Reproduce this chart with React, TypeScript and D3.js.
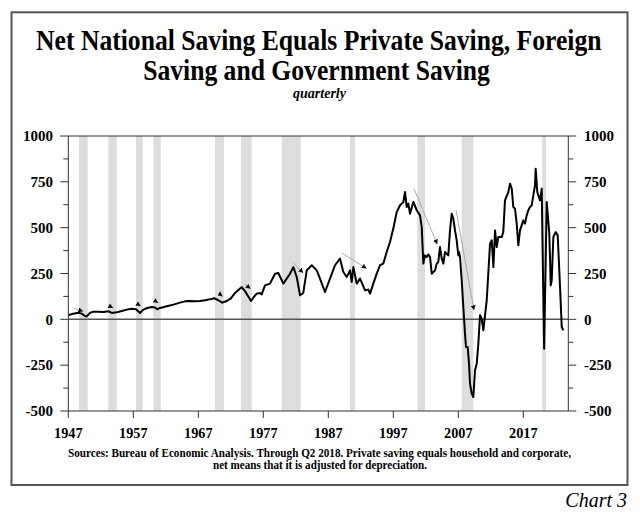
import React from 'react';
import * as d3 from 'd3';

// quarterly observations (decimal year) and net national saving (billions $)
const quarters = [
  1947.0, 1947.77, 1948.54, 1949.06, 1949.57, 1949.83, 1950.34, 1950.85, 1951.62, 1952.38,
  1953.15, 1953.68, 1954.45, 1955.22, 1955.98, 1956.75, 1957.42, 1958.03, 1958.54, 1959.15,
  1959.83, 1960.34, 1960.69, 1961.11, 1962.14, 1963.15, 1964.18, 1964.95, 1965.72, 1966.49,
  1967.26, 1968.03, 1968.8, 1969.42, 1970.08, 1970.69, 1971.37, 1971.98, 1972.65, 1973.68,
  1974.18, 1974.69, 1975.11, 1975.46, 1975.98, 1976.49, 1976.75, 1977.26, 1978.03, 1978.8,
  1979.31, 1980.08, 1980.6, 1981.11, 1981.62, 1981.88, 1982.14, 1982.65, 1983.15, 1983.68,
  1984.45, 1985.22, 1985.72, 1986.49, 1987.26, 1988.03, 1988.8, 1989.31, 1989.83, 1990.34,
  1990.6, 1990.85, 1991.37, 1991.88, 1992.65, 1993.15, 1993.42, 1993.92, 1994.45, 1994.95,
  1995.46, 1995.98, 1996.49, 1997.0, 1997.52, 1998.03, 1998.29, 1998.54, 1998.8, 1999.06,
  1999.31, 1999.57, 2000.08, 2000.6, 2001.11, 2001.37, 2001.62, 2001.88, 2002.14, 2002.4,
  2002.65, 2002.91, 2003.42, 2003.68, 2003.92, 2004.18, 2004.45, 2004.7, 2004.95, 2005.2,
  2005.46, 2005.72, 2005.98, 2006.23, 2006.49, 2006.75, 2007.0, 2007.1, 2007.26, 2007.52,
  2007.77, 2008.03, 2008.18, 2008.44, 2008.65, 2008.8, 2009.06, 2009.31, 2009.57, 2009.83,
  2010.08, 2010.34, 2010.6, 2010.85, 2011.37, 2011.88, 2012.14, 2012.4, 2012.65, 2012.91,
  2013.15, 2013.68, 2013.92, 2014.18, 2014.69, 2014.95, 2015.22, 2015.46, 2015.72, 2015.98,
  2016.23, 2016.49, 2017.0, 2017.26, 2017.52, 2017.77, 2018.03, 2018.29, 2018.54, 2018.8,
  2018.9, 2019.15, 2019.57, 2019.83, 2020.2, 2020.6, 2021.0, 2021.22, 2021.37, 2021.62,
  2021.98, 2022.29, 2022.65, 2022.91, 2023.15,
];
const saving = [
  22, 31, 36, 31, 18, 16, 35, 42, 42, 40,
  44, 35, 38, 45, 53, 58, 55, 35, 53, 62,
  67, 64, 55, 62, 71, 80, 91, 98, 100, 98,
  100, 104, 109, 115, 104, 91, 100, 113, 144, 176,
  154, 125, 100, 118, 140, 144, 136, 185, 195, 249,
  253, 195, 222, 249, 285, 258, 231, 131, 144, 267,
  295, 267, 222, 149, 222, 295, 331, 258, 231, 267,
  204, 285, 195, 222, 158, 162, 140, 195, 249, 295,
  304, 367, 422, 495, 585, 622, 631, 640, 694, 613,
  631, 576, 640, 595, 567, 503, 304, 349, 340, 354,
  340, 249, 267, 304, 313, 394, 331, 304, 367, 358,
  349, 485, 576, 549, 485, 431, 349, 367, 340, 213,
  67, -78, -151, -151, -242, -351, -405, -424, -278, -242,
  -133, 22, 4, -60, 104, 413, 431, 285, 485, 394,
  449, 449, 476, 649, 694, 740, 713, 613, 604, 522,
  404, 485, 540, 522, 567, 595, 613, 622, 676, 731,
  822, 694, 649, 713, -160, 640, 467, 185, 213, 449,
  476, 458, 176, -42, -60,
];

const recessionStart = [1948.65, 1953.15, 1957.42, 1960.08, 1969.57, 1973.57, 1979.83, 1990.34, 2000.69, 2007.52, 2019.92];
const recessionEnd = [1949.98, 1954.45, 1958.45, 1961.22, 1970.95, 1975.22, 1982.75, 1991.11, 2001.88, 2009.31, 2020.49];

const arrowFromYear = [1947.92, 1953.15, 1957.42, 1960.23, 1970.08, 1974.18, 1981.62, 1989.06, 2000.18, 2006.65];
const arrowFromValue = [58, 76, 89, 104, 144, 191, 307, 362, 713, 596];
const arrowToYear = [1949.31, 1953.92, 1958.14, 1960.85, 1970.75, 1975.06, 1983.15, 1992.91, 2003.77, 2009.42];
const arrowToValue = [44, 62, 71, 89, 125, 167, 253, 277, 409, 49];

const yearTicks = [1947, 1957, 1967, 1977, 1987, 1997, 2007, 2017];
const valueTicks = [-500, -250, 0, 250, 500, 750, 1000];
const minorTicks = [-375, -125, 125, 375, 625, 875];

const titleLines = ['Net National Saving Equals Private Saving, Foreign', 'Saving and Government Saving'];
const subtitle = 'quarterly';
const sourceLines = [
  'Sources: Bureau of Economic Analysis. Through Q2 2018. Private saving equals household and corporate,',
  'net means that it is adjusted for depreciation.',
];
const chartLabel = 'Chart 3';

const SERIF = "'Liberation Serif', 'Times New Roman', serif";

export default function App() {
  const left = 68.3, right = 568.3, top = 136, bottom = 411;
  const x = d3.scaleLinear().domain([1947, 2023.92]).range([left, right]);
  const y = d3.scaleLinear().domain([-500, 1000]).range([bottom, top]);
  const line = d3
    .line<number>()
    .x((_, i) => x(quarters[i]))
    .y((d) => y(d))
    .curve(d3.curveLinear);
  const axisColor = '#333';

  return (
    <svg width={640} height={515} style={{ position: 'absolute', left: 0, top: 0, background: '#fff' }} fontFamily={SERIF}>
      <defs>
        <marker id="ah" viewBox="0 0 10 10" refX="10" refY="5" markerWidth="5" markerHeight="5" orient="auto" markerUnits="userSpaceOnUse">
          <path d="M0,0 L10,5 L0,10 z" fill="#111" />
        </marker>
      </defs>
      <rect x={0} y={0} width={640} height={515} fill="#fff" />
      <rect x={11.5} y={12.3} width={616} height={472.7} fill="none" stroke="#555" strokeWidth={2} />

      <g transform="translate(318.8,50) scale(0.884,1)">
        <text x={0} y={0} textAnchor="middle" fontSize={29} fontWeight="bold">{titleLines[0]}</text>
      </g>
      <g transform="translate(316.5,80) scale(0.884,1)">
        <text x={0} y={0} textAnchor="middle" fontSize={29} fontWeight="bold">{titleLines[1]}</text>
      </g>
      <text x={319.5} y={98} textAnchor="middle" fontSize={14} fontWeight="bold" fontStyle="italic">{subtitle}</text>

      {recessionStart.map((s, i) => (
        <rect key={'r' + i} x={x(s)} y={top} width={x(recessionEnd[i]) - x(s)} height={bottom - top} fill="#dddddd" />
      ))}

      <line x1={left} x2={right} y1={y(0)} y2={y(0)} stroke="#555" strokeWidth={1.5} />

      {arrowFromYear.map((fy, i) => (
        <line key={'a' + i} x1={x(fy)} y1={y(arrowFromValue[i])} x2={x(arrowToYear[i])} y2={y(arrowToValue[i])}
          stroke="#999" strokeWidth={0.8} markerEnd="url(#ah)" />
      ))}

      <path d={line(saving) || ''} fill="none" stroke="#000" strokeWidth={2} strokeLinejoin="round" />

      {/* frame */}
      <line x1={left} x2={right} y1={top} y2={top} stroke={axisColor} strokeWidth={1} />
      <line x1={left} x2={right} y1={bottom} y2={bottom} stroke={axisColor} strokeWidth={1} />
      <line x1={left} x2={left} y1={top} y2={bottom} stroke={axisColor} strokeWidth={1} />
      <line x1={right} x2={right} y1={top} y2={bottom} stroke={axisColor} strokeWidth={1} />

      {valueTicks.map((v) => (
        <g key={'v' + v}>
          <line x1={left - 8} x2={left} y1={y(v)} y2={y(v)} stroke={axisColor} />
          <line x1={right} x2={right + 8} y1={y(v)} y2={y(v)} stroke={axisColor} />
          <text x={53} y={y(v)} dy="0.35em" textAnchor="end" fontSize={15} fontWeight="bold">{v}</text>
          <text x={584} y={y(v)} dy="0.35em" textAnchor="start" fontSize={15} fontWeight="bold">{v}</text>
        </g>
      ))}
      {minorTicks.map((v) => (
        <g key={'m' + v}>
          <line x1={left - 5} x2={left} y1={y(v)} y2={y(v)} stroke={axisColor} />
          <line x1={right} x2={right + 5} y1={y(v)} y2={y(v)} stroke={axisColor} />
        </g>
      ))}
      {yearTicks.map((t) => (
        <g key={'t' + t}>
          <line x1={x(t)} x2={x(t)} y1={bottom} y2={bottom + 7} stroke={axisColor} />
          <text x={x(t)} y={438.3} textAnchor="middle" fontSize={15} fontWeight="bold" textLength={28.5} lengthAdjust="spacingAndGlyphs">{t}</text>
        </g>
      ))}

      <text x={319.5} y={457.3} textAnchor="middle" fontSize={11.5} fontWeight="bold" textLength={503} lengthAdjust="spacingAndGlyphs">{sourceLines[0]}</text>
      <text x={320} y={468.8} textAnchor="middle" fontSize={11.5} fontWeight="bold" textLength={214} lengthAdjust="spacingAndGlyphs">{sourceLines[1]}</text>

      <text x={627} y={506.5} textAnchor="end" fontSize={20} fontStyle="italic">{chartLabel}</text>
    </svg>
  );
}
